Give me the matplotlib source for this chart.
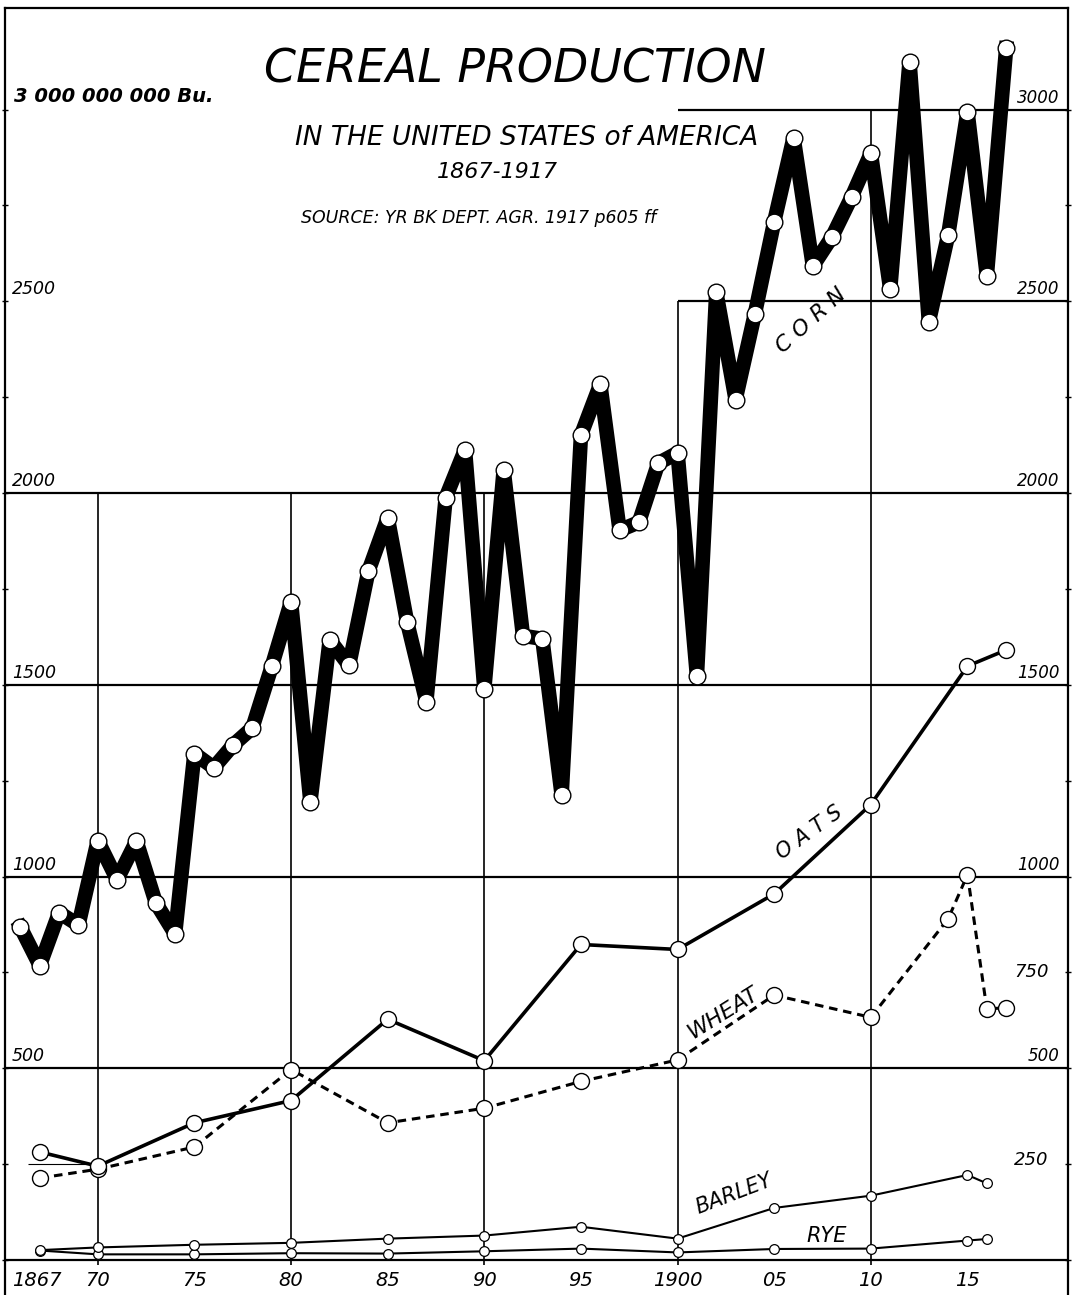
import numpy as np
import matplotlib
matplotlib.use('Agg')
import matplotlib.pyplot as plt

# production in millions of bushels
corn_years = list(range(1866, 1918))
corn = [868, 768, 906, 874, 1094, 992, 1093, 932, 850, 1321,
        1284, 1343, 1388, 1548, 1717, 1195, 1617, 1551, 1796, 1936,
        1665, 1456, 1988, 2113, 1490, 2060, 1628, 1620, 1213, 2151,
        2284, 1903, 1924, 2078, 2105, 1523, 2524, 2244, 2468, 2708,
        2927, 2592, 2669, 2772, 2886, 2532, 3125, 2447, 2673, 2995,
        2567, 3160]

oats_years = [1867, 1870, 1875, 1880, 1885, 1890, 1895, 1900, 1905, 1910, 1915, 1917]
oats = [282, 245, 358, 416, 628, 520, 823, 810, 955, 1188, 1549, 1591]

wheat_years = [1867, 1870, 1875, 1880, 1885, 1890, 1895, 1900, 1905, 1910, 1914, 1915, 1916, 1917]
wheat = [214, 237, 295, 497, 358, 396, 466, 522, 691, 633, 890, 1005, 655, 658]

barley_years = [1867, 1870, 1875, 1880, 1885, 1890, 1895, 1900, 1905, 1910, 1915, 1916]
barley = [26, 33, 40, 45, 56, 64, 87, 56, 136, 168, 222, 200]

rye_years = [1867, 1870, 1875, 1880, 1885, 1890, 1895, 1900, 1905, 1910, 1915, 1916]
rye = [25, 15, 15, 18, 17, 23, 30, 20, 29, 30, 51, 55]

xtick_years = [1866.85, 1870, 1875, 1880, 1885, 1890, 1895, 1900, 1905, 1910, 1915]
xtick_labels = ['1867', '70', '75', '80', '85', '90', '95', '1900', '05', '10', '15']

left_levels = [2500, 2000, 1500, 1000, 500]
left_labels = ['2500', '2000', '1500', '1000', '500']
right_levels = [3000, 2500, 2000, 1500, 1000, 500]
right_labels = ['3000', '2500', '2000', '1500', '1000', '500']

W, H = 1076, 1295
fig = plt.figure(figsize=(W / 100, H / 100), dpi=100)
ax = fig.add_axes([5 / W, 0, 1063 / W, 1 - 8 / H])
ax.set_xlim(1865.2, 1920.2)
ax.set_ylim(-91, 3265)
for s in ['left', 'right', 'top']:
    ax.spines[s].set_linewidth(1.6)
ax.spines['bottom'].set_visible(False)
ax.set_xticks([])
ax.set_yticks(np.arange(0, 3001, 250))
ax.tick_params(axis='y', which='both', left=True, right=True, direction='inout',
               length=5, width=1, labelleft=False)

# stepped grid, kept clear of the title block
xmin, xmax = ax.get_xlim()
ax.hlines([0, 500, 1000, 1500, 2000], xmin, xmax, color='black', lw=1.6, zorder=1)
ax.hlines([2500, 3000], 1900, xmax, color='black', lw=1.6, zorder=1)
ax.hlines(250, 1866.4, 1870, color='black', lw=0.8, zorder=1)
ax.vlines([1870, 1880, 1890], -12, 2000, color='black', lw=1.2, zorder=1)
ax.vlines(1900, -12, 2500, color='black', lw=1.2, zorder=1)
ax.vlines(1910, -12, 3000, color='black', lw=1.2, zorder=1)

# series
ax.plot(rye_years, rye, color='black', lw=1.5, marker='o', ms=7,
        mfc='white', mec='black', mew=0.9, zorder=4)
ax.plot(barley_years, barley, color='black', lw=1.5, marker='o', ms=7,
        mfc='white', mec='black', mew=0.9, zorder=4)
ax.plot(wheat_years, wheat, color='black', lw=2.2, ls=(0, (2.8, 1.9)), marker='o', ms=11.5,
        mfc='white', mec='black', mew=1.0, zorder=4)
ax.plot(oats_years, oats, color='black', lw=2.6, marker='o', ms=11.5,
        mfc='white', mec='black', mew=1.0, zorder=4)
ax.plot(corn_years, corn, color='black', lw=10.5, marker='o', ms=12,
        mfc='white', mec='black', mew=1.0, zorder=5)

lab = dict(style='italic', color='black', family='DejaVu Sans')

# axis labels
for yr, t in zip(xtick_years, xtick_labels):
    ax.text(yr, -52, t, ha='center', va='center', fontsize=14, **lab)
for v, t in zip(left_levels, left_labels):
    ax.text(1865.55, v + 8, t, ha='left', va='bottom', fontsize=12.5, **lab)
for v, t in zip(right_levels, right_labels):
    ax.text(1919.75, v + 8, t, ha='right', va='bottom', fontsize=12, **lab)
ax.text(1919.2, 750, '750', ha='right', va='center', fontsize=13, **lab)
ax.text(1919.2, 262, '250', ha='right', va='center', fontsize=13, **lab)
ax.text(1865.65, 3010, '3 000 000 000 Bu.', ha='left', va='bottom', fontsize=14,
        weight='semibold', **lab)

# series names
ax.text(1906.9, 2450, 'C O R N', rotation=42, ha='center', va='center', fontsize=16, **lab)
ax.text(1906.8, 1115, 'O A T S', rotation=36, ha='center', va='center', fontsize=15, **lab)
ax.text(1902.4, 645, 'WHEAT', rotation=32, ha='center', va='center', fontsize=16, **lab)
ax.text(1902.9, 172, 'BARLEY', rotation=21, ha='center', va='center', fontsize=15, **lab)
ax.text(1907.7, 62, 'RYE', rotation=0, ha='center', va='center', fontsize=15, **lab)

# title block
fig.text(515 / W, 1 - 70 / H, 'CEREAL PRODUCTION', ha='center', va='center', fontsize=33, **lab)
fig.text(527 / W, 1 - 138 / H, 'IN THE UNITED STATES of AMERICA', ha='center', va='center',
         fontsize=19, **lab)
fig.text(497 / W, 1 - 172 / H, '1867-1917', ha='center', va='center', fontsize=16, **lab)
fig.text(479 / W, 1 - 218 / H, 'SOURCE: YR BK DEPT. AGR. 1917 p605 ff', ha='center', va='center',
         fontsize=12.5, **lab)

fig.savefig('out.png', dpi=100, facecolor='white')
